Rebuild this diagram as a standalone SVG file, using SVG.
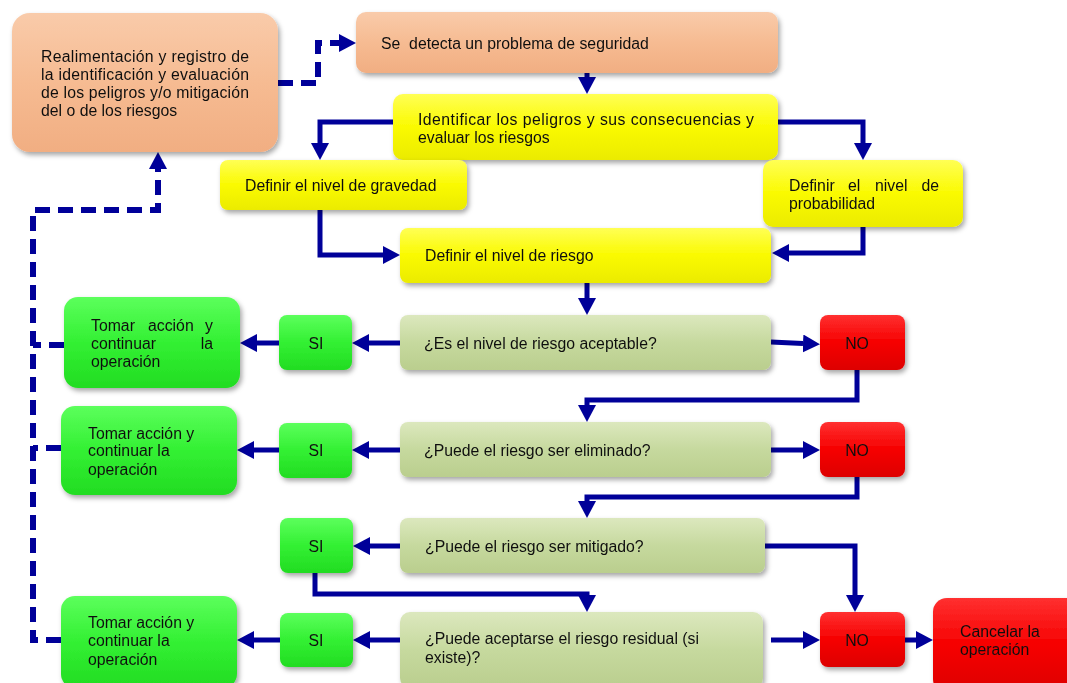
<svg xmlns="http://www.w3.org/2000/svg" width="1067" height="683" viewBox="0 0 1067 683">
<style>
text{font-family:"Liberation Sans",Arial,sans-serif;font-size:15.8px;fill:#111}
.c{text-anchor:middle}
.ln{fill:none;stroke:#000099;stroke-width:5;stroke-linejoin:miter}
.ds{fill:none;stroke:#000099;stroke-width:6;stroke-dasharray:15 8}
.node{filter:url(#sh)}
</style>
<defs>
<filter id="sh" x="-10%" y="-10%" width="125%" height="130%">
<feDropShadow dx="2" dy="3" stdDeviation="2.5" flood-color="#000" flood-opacity="0.35"/>
</filter>
<linearGradient id="gO" x1="0" y1="0" x2="0" y2="1"><stop offset="0" stop-color="#F9CBAA"/><stop offset="0.5" stop-color="#F6BB92"/><stop offset="1" stop-color="#F1AE82"/></linearGradient>
<linearGradient id="gY" x1="0" y1="0" x2="0" y2="1"><stop offset="0" stop-color="#FFFF55"/><stop offset="0.5" stop-color="#FAFA00"/><stop offset="1" stop-color="#EBEB00"/></linearGradient>
<linearGradient id="gP" x1="0" y1="0" x2="0" y2="1"><stop offset="0" stop-color="#DCE8BE"/><stop offset="0.5" stop-color="#C6D99E"/><stop offset="1" stop-color="#BACE8E"/></linearGradient>
<linearGradient id="gG" x1="0" y1="0" x2="0" y2="1"><stop offset="0" stop-color="#5CFF5C"/><stop offset="0.5" stop-color="#33F033"/><stop offset="1" stop-color="#22DC22"/></linearGradient>
<linearGradient id="gR" x1="0" y1="0" x2="0" y2="1"><stop offset="0" stop-color="#FF3030"/><stop offset="0.5" stop-color="#F60000"/><stop offset="1" stop-color="#DD0000"/></linearGradient>
<marker id="ah" viewBox="0 0 17 18" refX="0" refY="9" markerWidth="17" markerHeight="18" markerUnits="userSpaceOnUse" orient="auto">
<path d="M0,0 L17,9 L0,18 Z" fill="#000099"/>
</marker>
</defs>

<g id="connectors">
<path class="ds" d="M278,83 H318 V43 H339" marker-end="url(#ah)"/>
<path class="ds" d="M61,640 H33 V210 H158 V169" marker-end="url(#ah)"/>
<path class="ds" d="M64,345 H33"/>
<path class="ds" d="M61,448 H33"/>
<path class="ln" d="M587,73 V77" marker-end="url(#ah)"/>
<path class="ln" d="M393,122 H320 V143" marker-end="url(#ah)"/>
<path class="ln" d="M778,122 H863 V143" marker-end="url(#ah)"/>
<path class="ln" d="M320,210 V255 H383" marker-end="url(#ah)"/>
<path class="ln" d="M863,227 V253 H789" marker-end="url(#ah)"/>
<path class="ln" d="M587,283 V298" marker-end="url(#ah)"/>
<path class="ln" d="M400,343 H369" marker-end="url(#ah)"/>
<path class="ln" d="M279,343 H257" marker-end="url(#ah)"/>
<path class="ln" d="M771,342 L803,343.5" marker-end="url(#ah)"/>
<path class="ln" d="M857,370 V400 H587 V405" marker-end="url(#ah)"/>
<path class="ln" d="M400,450 H369" marker-end="url(#ah)"/>
<path class="ln" d="M279,450 H254" marker-end="url(#ah)"/>
<path class="ln" d="M771,450 H803" marker-end="url(#ah)"/>
<path class="ln" d="M857,477 V497 H587 V501" marker-end="url(#ah)"/>
<path class="ln" d="M400,546 H370" marker-end="url(#ah)"/>
<path class="ln" d="M765,546 H855 V595" marker-end="url(#ah)"/>
<path class="ln" d="M315,573 V594 H587 V595" marker-end="url(#ah)"/>
<path class="ln" d="M400,640 H370" marker-end="url(#ah)"/>
<path class="ln" d="M280,640 H254" marker-end="url(#ah)"/>
<path class="ln" d="M771,640 H803" marker-end="url(#ah)"/>
<path class="ln" d="M905,640 H916" marker-end="url(#ah)"/>
</g>

<g id="n_realimentacion" class="node">
<rect x="12" y="13" width="266" height="139" rx="18" fill="url(#gO)"/>
<text x="41" y="61.5" textLength="208" lengthAdjust="spacing">Realimentación y registro de</text>
<text x="41" y="79.5" textLength="208" lengthAdjust="spacing">la identificación y evaluación</text>
<text x="41" y="97.5" textLength="208" lengthAdjust="spacing">de los peligros y/o mitigación</text>
<text x="41" y="115.5">del o de los riesgos</text>
</g>

<g id="n_detecta" class="node">
<rect x="356" y="12" width="422" height="61" rx="10" fill="url(#gO)"/>
<text x="381" y="48.5" xml:space="preserve">Se  detecta un problema de seguridad</text>
</g>

<g id="n_identificar" class="node">
<rect x="393" y="94" width="385" height="66" rx="10" fill="url(#gY)"/>
<text x="418" y="124.5" textLength="336" lengthAdjust="spacing">Identificar los peligros y sus consecuencias y</text>
<text x="418" y="142.5">evaluar los riesgos</text>
</g>

<g id="n_gravedad" class="node">
<rect x="220" y="160" width="247" height="50" rx="8" fill="url(#gY)"/>
<text x="245" y="190.5">Definir el nivel de gravedad</text>
</g>

<g id="n_probabilidad" class="node">
<rect x="763" y="160" width="200" height="67" rx="10" fill="url(#gY)"/>
<text y="190.5"><tspan x="789">Definir</tspan><tspan x="848">el</tspan><tspan x="875">nivel</tspan><tspan x="939" text-anchor="end">de</tspan></text>
<text x="789" y="208.5">probabilidad</text>
</g>

<g id="n_riesgo" class="node">
<rect x="400" y="228" width="371" height="55" rx="8" fill="url(#gY)"/>
<text x="425" y="260.5">Definir el nivel de riesgo</text>
</g>

<g id="n_aceptable" class="node">
<rect x="400" y="315" width="371" height="55" rx="8" fill="url(#gP)"/>
<text x="424" y="348.5">¿Es el nivel de riesgo aceptable?</text>
</g>

<g id="n_no1" class="node">
<rect x="820" y="315" width="85" height="55" rx="8" fill="url(#gR)"/>
<text class="c" x="857" y="348.5">NO</text>
</g>

<g id="n_si1" class="node">
<rect x="279" y="315" width="73" height="55" rx="8" fill="url(#gG)"/>
<text class="c" x="316" y="348.5">SI</text>
</g>

<g id="n_tomar1" class="node">
<rect x="64" y="297" width="176" height="91" rx="14" fill="url(#gG)"/>
<text y="330.5"><tspan x="91">Tomar</tspan><tspan x="148">acción</tspan><tspan x="213" text-anchor="end">y</tspan></text>
<text y="348.5"><tspan x="91">continuar</tspan><tspan x="213" text-anchor="end">la</tspan></text>
<text x="91" y="367">operación</text>
</g>

<g id="n_eliminado" class="node">
<rect x="400" y="422" width="371" height="55" rx="8" fill="url(#gP)"/>
<text x="424" y="455.5">¿Puede el riesgo ser eliminado?</text>
</g>

<g id="n_no2" class="node">
<rect x="820" y="422" width="85" height="55" rx="8" fill="url(#gR)"/>
<text class="c" x="857" y="455.5">NO</text>
</g>

<g id="n_si2" class="node">
<rect x="279" y="423" width="73" height="55" rx="8" fill="url(#gG)"/>
<text class="c" x="316" y="455.5">SI</text>
</g>

<g id="n_tomar2" class="node">
<rect x="61" y="406" width="176" height="89" rx="14" fill="url(#gG)"/>
<text x="88" y="438.5">Tomar acción y</text>
<text x="88" y="456">continuar la</text>
<text x="88" y="474.5">operación</text>
</g>

<g id="n_mitigado" class="node">
<rect x="400" y="518" width="365" height="55" rx="8" fill="url(#gP)"/>
<text x="425" y="551.5">¿Puede el riesgo ser mitigado?</text>
</g>

<g id="n_si3" class="node">
<rect x="280" y="518" width="73" height="55" rx="8" fill="url(#gG)"/>
<text class="c" x="316" y="551.5">SI</text>
</g>

<g id="n_residual" class="node">
<rect x="400" y="612" width="363" height="76" rx="10" fill="url(#gP)"/>
<text x="425" y="643.5">¿Puede aceptarse el riesgo residual (si</text>
<text x="425" y="662.5">existe)?</text>
</g>

<g id="n_si4" class="node">
<rect x="280" y="613" width="73" height="54" rx="8" fill="url(#gG)"/>
<text class="c" x="316" y="645.5">SI</text>
</g>

<g id="n_tomar3" class="node">
<rect x="61" y="596" width="176" height="92" rx="14" fill="url(#gG)"/>
<text x="88" y="627.5">Tomar acción y</text>
<text x="88" y="646">continuar la</text>
<text x="88" y="665">operación</text>
</g>

<g id="n_no3" class="node">
<rect x="820" y="612" width="85" height="55" rx="8" fill="url(#gR)"/>
<text class="c" x="857" y="645.5">NO</text>
</g>

<g id="n_cancelar" class="node">
<rect x="933" y="598" width="150" height="95" rx="14" fill="url(#gR)"/>
<text x="960" y="636.5">Cancelar la</text>
<text x="960" y="655">operación</text>
</g>
</svg>
